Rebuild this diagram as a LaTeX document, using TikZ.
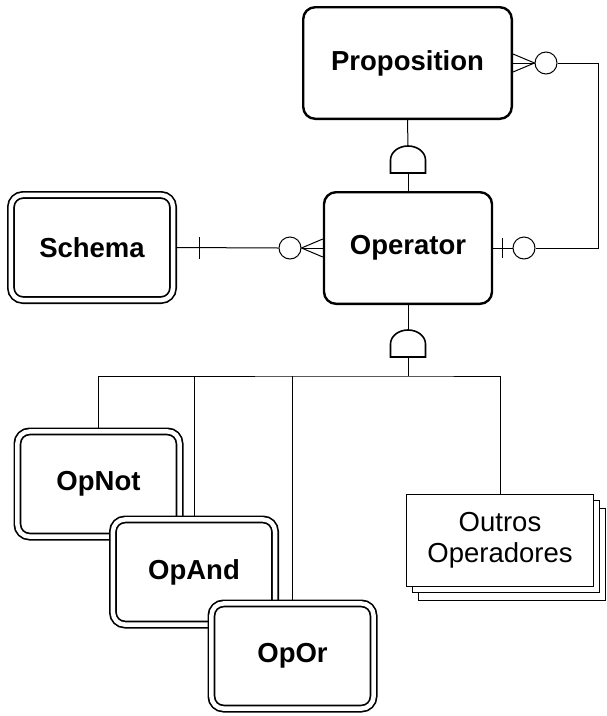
\documentclass[tikz,border=0pt]{standalone}
\usepackage{fontspec}
\setmainfont{Liberation Sans}
\usetikzlibrary{shadows}

\newcommand{\ERsize}{\fontsize{27.5}{31}\selectfont}

\tikzset{
  conn/.style={line width=1pt},
  entbox/.style={draw, fill=white, line width=2.4pt, rounded corners=12pt,
    font=\ERsize\bfseries, minimum width=#1, minimum height=111.6pt},
  depbox/.style={draw, fill=white, double, double distance=4.5pt, line width=1.7pt,
    rounded corners=12pt, outer sep=3.95pt, font=\ERsize\bfseries,
    minimum width=162.1pt, minimum height=105.1pt},
  grpbox/.style={draw, fill=white, line width=1.3pt, align=center, font=\ERsize,
    minimum width=186.7pt, minimum height=91.7pt,
    copy shadow={shadow xshift=12pt, shadow yshift=-14pt, line width=1pt},
    copy shadow={shadow xshift=6pt, shadow yshift=-6pt, line width=1pt}},
  optc/.style={circle, draw, fill=white, line width=1pt, minimum size=22pt, inner sep=0pt},
  pics/subgate/.style={code={
    \draw[line width=1.6pt, fill=white] (-17.5,0) -- (-17.5,-13)
      .. controls (-17.5,-20.7) and (-9.7,-27) .. (0,-27)
      .. controls (9.7,-27) and (17.5,-20.7) .. (17.5,-13) -- (17.5,0) -- cycle;
    \coordinate (-top) at (0,-27);
    \coordinate (-bot) at (0,0);
  }}
}

\begin{document}
\begin{tikzpicture}[x=1pt, y=-1pt]
  \useasboundingbox (0,0) rectangle (607,716);

  % Entities
  \node[entbox=208.6pt] (Proposition) at (407.5,63) {Proposition};
  \node[entbox=168pt] (Operator) at (408,248) {Operator};
  \node[depbox] (Schema) at (92,247.5) {Schema};

  % Subtypes of Operator
  \node[depbox] (OpNot) at (98.5,484) {OpNot};
  \node[depbox] (OpAnd) at (194,572) {OpAnd};
  \node[depbox] (OpOr) at (292.5,656) {OpOr};
  \node[grpbox] (Outros) at (500,540.5) {Outros\\Operadores};

  % Optionality circles
  \node[optc] (C1) at (546,63) {};
  \node[optc] (C2) at (524,248) {};
  \node[optc] (C3) at (290,248) {};

  % Subtype gates
  \pic (G1) at (408,173) {subgate};
  \pic (G2) at (408,357) {subgate};
  \draw[conn] (Proposition.south) -- (G1-top);
  \draw[conn] (G1-bot) -- (Operator.north);
  \draw[conn] (Operator.south) -- (G2-top);

  % Proposition -- Operator (many)
  \draw[conn] ([yshift=9pt]Proposition.east) -- (C1.west) -- ([yshift=-9pt]Proposition.east);
  \draw[conn] (Proposition.east) -- (C1.west);
  \coordinate (bendR) at (598,248);
  \draw[conn] (C1.east) -| (bendR) -- (C2.east);
  \draw[conn] (Operator.east) -- (C2.west);
  \coordinate (T1) at (502,248);
  \draw[conn] (T1) ++(0,-10) -- ++(0,20);

  % Schema -- Operator (many)
  \draw[conn] (Schema.east) -- (C3.west);
  \coordinate (T2) at (199,248);
  \draw[conn] (T2) ++(0,-11) -- ++(0,22);
  \draw[conn] ([yshift=9pt]Operator.west) -- (C3.east) -- ([yshift=-9pt]Operator.west);
  \draw[conn] (Operator.west) -- (C3.east);

  % Subtype bus
  \coordinate (bus) at (408,376);
  \draw[conn] (G2-bot) -- (bus);
  \draw[conn] (OpNot.north) |- (bus) -| (Outros.north);
  \draw[conn] (OpAnd.north) -- (OpAnd.north |- bus);
  \draw[conn] (OpOr.north) -- (OpOr.north |- bus);
\end{tikzpicture}
\end{document}
